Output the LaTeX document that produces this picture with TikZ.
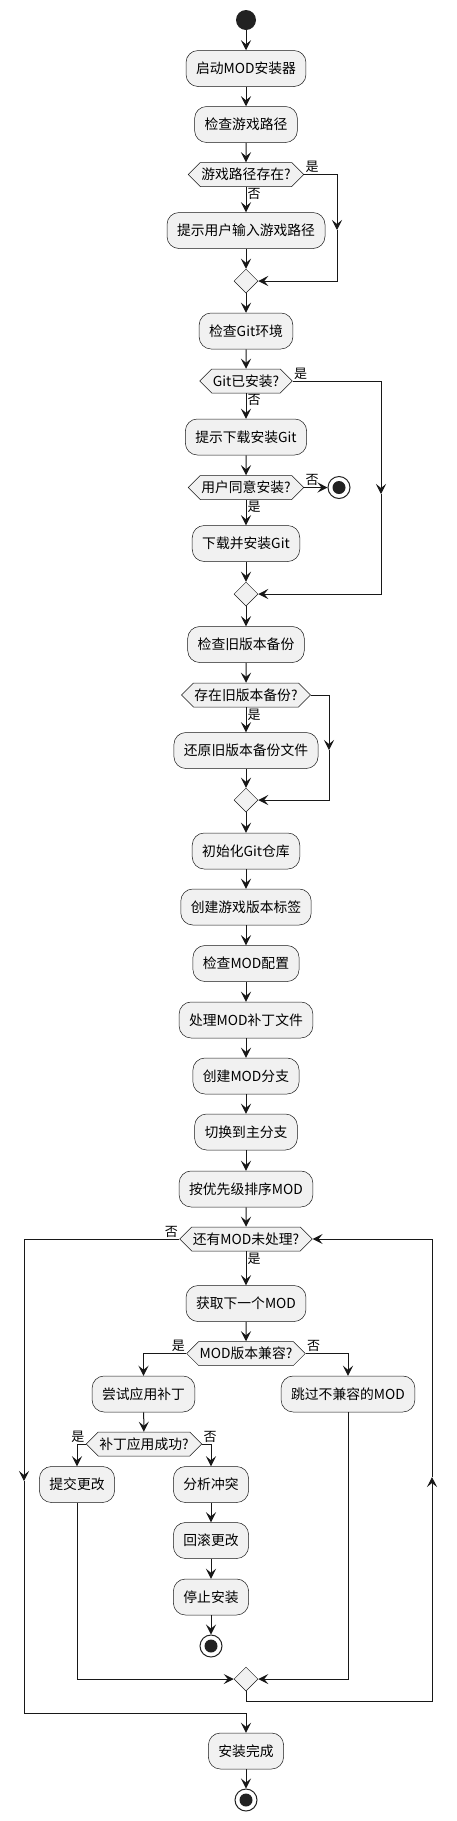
\documentclass[tikz,border=0pt]{standalone}
\usepackage{fontspec}
\setmainfont{Noto Sans CJK SC}
\usetikzlibrary{arrows.meta,shapes.geometric,shapes.symbols}
\definecolor{linec}{HTML}{181818}
\definecolor{boxfill}{HTML}{F1F1F1}
\definecolor{dotc}{HTML}{222222}

\begin{document}
\begin{tikzpicture}[x=1pt, y=-1pt,
    every node/.style={font=\fontsize{13.8}{16}\selectfont},
    act/.style={rectangle, rounded corners=12pt, draw=linec, line width=.5pt,
        fill=boxfill, minimum height=36pt, inner xsep=10pt, inner ysep=0pt},
    dec/.style={signal, signal to=west and east, signal pointer angle=90,
        draw=linec, line width=.5pt, fill=boxfill, minimum height=24pt,
        inner xsep=1pt, inner ysep=0pt},
    merge/.style={diamond, aspect=1, draw=linec, line width=.5pt,
        fill=boxfill, minimum size=24pt, inner sep=0pt},
    startc/.style={circle, fill=dotc, minimum size=20pt, inner sep=0pt},
    stopc/.style={circle, draw=dotc, line width=1pt, fill=white,
        minimum size=22pt, inner sep=0pt},
    lbl/.style={font=\fontsize{13}{15}\selectfont, inner sep=1pt},
    line/.style={draw=linec, line width=1pt},
    flow/.style={line, -{Stealth[length=10pt,width=10pt,inset=4pt]}}]

    \useasboundingbox[fill=white] (0,0) rectangle (456,1821);

    \node[startc] (start) at (246,20) {};
    \node[act] (init) at (246,68.5) {启动MOD安装器};
    \node[act] (chkpath) at (246,124.5) {检查游戏路径};
    \node[dec] (ispath) at (246,174.5) {游戏路径存在?};
    \node[act] (askpath) at (246,230.5) {提示用户输入游戏路径};
    \node[merge] (m1) at (246,281) {};
    \node[act] (chkgit) at (246,331) {检查Git环境};
    \node[dec] (isgit) at (246,381) {Git已安装?};
    \node[act] (askgit) at (246,437) {提示下载安装Git};
    \node[dec] (agree) at (246,487.5) {用户同意安装?};
    \node[stopc] (stop1) at (339,487.5) {};
    \node[act] (getgit) at (246,543.5) {下载并安装Git};
    \node[merge] (m2) at (246,594) {};
    \node[act] (chkbak) at (246,644.5) {检查旧版本备份};
    \node[dec] (isbak) at (246,695) {存在旧版本备份?};
    \node[act] (restore) at (246,750.5) {还原旧版本备份文件};
    \node[merge] (m3) at (246,800) {};
    \node[act] (initrepo) at (246,851) {初始化Git仓库};
    \node[act] (tag) at (246,907) {创建游戏版本标签};
    \node[act] (chkmod) at (246,963.5) {检查MOD配置};
    \node[act] (patch) at (246,1020) {处理MOD补丁文件};
    \node[act] (branch) at (246,1076) {创建MOD分支};
    \node[act] (tomain) at (246,1132) {切换到主分支};
    \node[act] (sort) at (246,1189) {按优先级排序MOD};
    \node[dec] (more) at (246,1239) {还有MOD未处理?};
    \node[act] (next) at (246,1303.5) {获取下一个MOD};
    \node[dec] (compat) at (246,1353.5) {MOD版本兼容?};
    \node[act] (apply) at (143.5,1394) {尝试应用补丁};
    \node[act] (skip) at (348,1394) {跳过不兼容的MOD};
    \node[dec] (ok) at (144,1444) {补丁应用成功?};
    \node[act] (commit) at (77,1484.5) {提交更改};
    \node[act] (conflict) at (211,1484.5) {分析冲突};
    \node[act] (rollback) at (211,1540.5) {回滚更改};
    \node[act] (halt) at (211,1597) {停止安装};
    \node[stopc] (stop2) at (211,1646) {};
    \node[merge] (m4) at (246,1679) {};
    \node[act] (done) at (246,1751) {安装完成};
    \node[stopc] (stop3) at (246,1800) {};

    \fill[dotc] (stop1) circle (6.5pt);
    \fill[dotc] (stop2) circle (6.5pt);
    \fill[dotc] (stop3) circle (6.5pt);

    % bends with an arrow half way down
    \coordinate (r1) at (337,230);
    \coordinate (r2) at (381,494);
    \coordinate (r3) at (329,750);
    \coordinate (l5) at (24,1481);
    \coordinate (r5) at (432,1477);
    \coordinate (back) at (246,1713);
    \coordinate (loop) at (246,1701);

    \draw[flow] (start) -- (init);
    \draw[flow] (init) -- (chkpath);
    \draw[flow] (chkpath) -- (ispath);
    \draw[flow] (ispath.south) -- node[lbl, pos=0, anchor=north west] (n1) {否} (askpath.north);
    \draw[flow] (ispath.east) -| node[lbl, pos=0, anchor=south west] (y1) {是} (r1);
    \draw[flow] (r1) |- (m1.east);
    \draw[flow] (askpath) -- (m1);
    \draw[flow] (m1) -- (chkgit);
    \draw[flow] (chkgit) -- (isgit);
    \draw[flow] (isgit.south) -- node[lbl, pos=0, anchor=north west] (n2) {否} (askgit.north);
    \draw[flow] (isgit.east) -| node[lbl, pos=0, anchor=south west] (y2) {是} (r2);
    \draw[flow] (r2) |- (m2.east);
    \draw[flow] (askgit) -- (agree);
    \draw[flow] (agree.east) -- node[lbl, pos=0, anchor=south west] (n3) {否} (stop1);
    \draw[flow] (agree.south) -- node[lbl, pos=0, anchor=north west] (y3) {是} (getgit.north);
    \draw[flow] (getgit) -- (m2);
    \draw[flow] (m2) -- (chkbak);
    \draw[flow] (chkbak) -- (isbak);
    \draw[flow] (isbak.south) -- node[lbl, pos=0, anchor=north west] (y4) {是} (restore.north);
    \draw[flow] (isbak.east) -| (r3);
    \draw[flow] (r3) |- (m3.east);
    \draw[flow] (restore) -- (m3);
    \draw[flow] (m3) -- (initrepo);
    \draw[flow] (initrepo) -- (tag);
    \draw[flow] (tag) -- (chkmod);
    \draw[flow] (chkmod) -- (patch);
    \draw[flow] (patch) -- (branch);
    \draw[flow] (branch) -- (tomain);
    \draw[flow] (tomain) -- (sort);
    \draw[flow] (sort) -- (more);

    % mod loop
    \draw[flow] (more.south) -- node[lbl, pos=0, anchor=north west] (y5) {是} (next.north);
    \draw[flow] (more.west) -| node[lbl, pos=0, anchor=south east] (n5) {否} (l5);
    \draw[flow] (l5) |- (back) -- (done.north);
    \draw[flow] (next) -- (compat);
    \draw[flow] (compat.west) -| node[lbl, pos=0, anchor=south east] (y6) {是} (apply.north);
    \draw[flow] (compat.east) -| node[lbl, pos=0, anchor=south west] (n6) {否} (skip.north);
    \draw[flow] (apply) -- (ok);
    \draw[flow] (ok.west) -| node[lbl, pos=0, anchor=south east] (y7) {是} (commit.north);
    \draw[flow] (ok.east) -| node[lbl, pos=0, anchor=south west] (n7) {否} (conflict.north);
    \draw[flow] (conflict) -- (rollback);
    \draw[flow] (rollback) -- (halt);
    \draw[flow] (halt) -- (stop2);
    \draw[flow] (commit.south) |- (m4.west);
    \draw[flow] (skip.south) |- (m4.east);
    \draw[flow] (m4.south) -- (loop) -| (r5);
    \draw[flow] (r5) |- (more.east);
    \draw[flow] (done) -- (stop3);

\end{tikzpicture}
\end{document}
